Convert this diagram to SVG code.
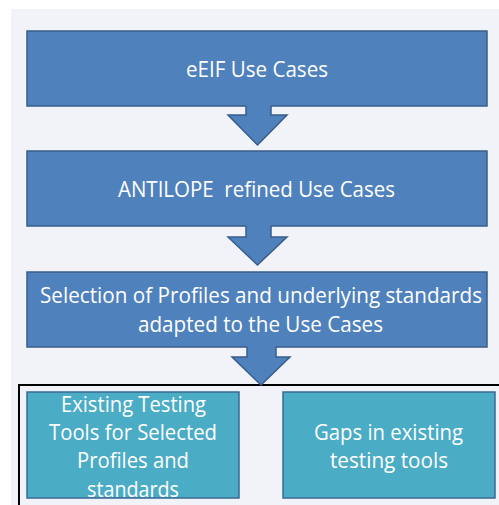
<svg xmlns="http://www.w3.org/2000/svg" width="499" height="505" viewBox="0 0 499 505">
<style>
.bg{fill:#F2F3F8}
.box{fill:#4F81BD;stroke:#385D8A;stroke-width:1.5}
.teal{fill:#4BACC6;stroke:#3A6A92;stroke-width:1.5}
.arrow{fill:#4F81BD}
.aedge{fill:none;stroke:#385D8A;stroke-width:1.5;stroke-linejoin:miter}
.t{font-family:"Open Sans","Liberation Sans",sans-serif;font-size:21px;fill:#FFFFFF;text-anchor:middle}
</style>
<rect class="bg" x="11" y="9" width="488" height="496"/>
<g id="container">
<rect x="19" y="385" width="482" height="124" fill="none" stroke="#000000" stroke-width="2"/>
</g>
<g id="node-eeif">
<rect class="box" x="27" y="31" width="460" height="75"/>
<text class="t" x="257" y="77" textLength="142" lengthAdjust="spacingAndGlyphs">eEIF Use Cases</text>
</g>
<g id="node-antilope">
<rect class="box" x="27" y="151" width="460" height="75"/>
<text class="t" x="256.5" y="197" textLength="277" lengthAdjust="spacingAndGlyphs" xml:space="preserve">ANTILOPE  refined Use Cases</text>
</g>
<g id="node-selection">
<rect class="box" x="27" y="272" width="460" height="75"/>
<text class="t" x="261" y="303" textLength="442" lengthAdjust="spacingAndGlyphs">Selection of Profiles and underlying standards</text>
<text class="t" x="260.5" y="332" textLength="245" lengthAdjust="spacingAndGlyphs">adapted to the Use Cases</text>
</g>
<g id="node-existing">
<rect class="teal" x="27" y="392" width="212" height="106"/>
<text class="t" x="133.5" y="412" textLength="145" lengthAdjust="spacingAndGlyphs">Existing Testing</text>
<text class="t" x="133" y="440" textLength="168" lengthAdjust="spacingAndGlyphs">Tools for Selected</text>
<text class="t" x="133" y="468" textLength="112" lengthAdjust="spacingAndGlyphs">Profiles and</text>
<text class="t" x="133" y="497" textLength="92" lengthAdjust="spacingAndGlyphs">standards</text>
</g>
<g id="node-gaps">
<rect class="teal" x="283" y="392" width="212" height="106"/>
<text class="t" x="388.5" y="440" textLength="149" lengthAdjust="spacingAndGlyphs">Gaps in existing</text>
<text class="t" x="389" y="468" textLength="118" lengthAdjust="spacingAndGlyphs">testing tools</text>
</g>
<g id="connectors">
<polygon class="arrow" points="246,105 271,105 271,115 287,115 257.5,145 228,115 246,115"/>
<path class="aedge" d="M246,106 V115 H228 L257.5,145 L287,115 H271 V106"/>
<polygon class="arrow" points="246,225 271,225 271,237 287,237 257.5,265 228,237 246,237"/>
<path class="aedge" d="M246,226 V237 H228 L257.5,265 L287,237 H271 V226"/>
<polygon class="arrow" points="247,346 276,346 276,357 290,357 261,385 232,357 247,357"/>
<path class="aedge" d="M247,347 V357 H232 L261,385 L290,357 H276 V347"/>
</g>
</svg>
